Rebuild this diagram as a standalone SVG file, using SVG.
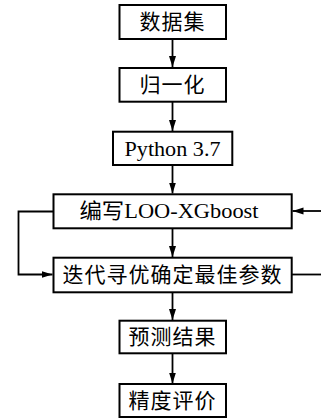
<svg xmlns="http://www.w3.org/2000/svg" width="321" height="418" viewBox="0 0 321 418">
<style>
.box{fill:#fff;stroke:#000;stroke-width:2}
.t{font-family:"Liberation Serif","Noto Sans CJK SC",serif;font-size:21px;fill:#000;text-anchor:middle;dominant-baseline:central}
.c{fill:none;stroke:#000;stroke-width:1.8}
</style>
<defs>
<marker id="ah" markerUnits="userSpaceOnUse" markerWidth="12" markerHeight="8" refX="11" refY="4" orient="auto">
<path d="M0,0.5 L11,4 L0,7.5 z" fill="#000"/>
</marker>
</defs>
<g id="connectors">
<line class="c" x1="172.5" y1="39" x2="172.5" y2="67" marker-end="url(#ah)"/>
<line class="c" x1="172.5" y1="102" x2="172.5" y2="131" marker-end="url(#ah)"/>
<line class="c" x1="172.5" y1="165" x2="172.5" y2="193.5" marker-end="url(#ah)"/>
<line class="c" x1="172.5" y1="228.5" x2="172.5" y2="257" marker-end="url(#ah)"/>
<line class="c" x1="172.5" y1="292.5" x2="172.5" y2="320" marker-end="url(#ah)"/>
<line class="c" x1="172.5" y1="353.5" x2="172.5" y2="383.5" marker-end="url(#ah)"/>
<polyline class="c" points="53.5,211.5 18.5,211.5 18.5,274.5 52.5,274.5" marker-end="url(#ah)"/>
<line class="c" x1="321" y1="211" x2="292.5" y2="211" marker-end="url(#ah)"/>
<line class="c" x1="292" y1="274.5" x2="321" y2="274.5"/>
</g>
<g id="n1"><rect class="box" x="119.5" y="5" width="106.5" height="34"/><text class="t" x="172.5" y="22" letter-spacing="1">数据集</text></g>
<g id="n2"><rect class="box" x="119.5" y="68" width="106.5" height="33.7"/><text class="t" x="172.5" y="85" letter-spacing="1">归一化</text></g>
<g id="n3"><rect class="box" x="113" y="131.7" width="119.3" height="33.3"/><text class="t" x="172.5" y="148.5" textLength="96" lengthAdjust="spacingAndGlyphs">Python 3.7</text></g>
<g id="n4"><rect class="box" x="53.5" y="194.3" width="238.2" height="34"/><text class="t" x="169" y="211.3" textLength="179" lengthAdjust="spacingAndGlyphs">编写LOO-XGboost</text></g>
<g id="n5"><rect class="box" x="53.5" y="257.7" width="238.2" height="34.6"/><text class="t" x="172.5" y="275" letter-spacing="1">迭代寻优确定最佳参数</text></g>
<g id="n6"><rect class="box" x="119.5" y="320.7" width="106.5" height="32.6"/><text class="t" x="172.5" y="337" letter-spacing="1">预测结果</text></g>
<g id="n7"><rect class="box" x="119.5" y="384" width="106.5" height="33"/><text class="t" x="172.5" y="400.5" letter-spacing="1">精度评价</text></g>
</svg>
